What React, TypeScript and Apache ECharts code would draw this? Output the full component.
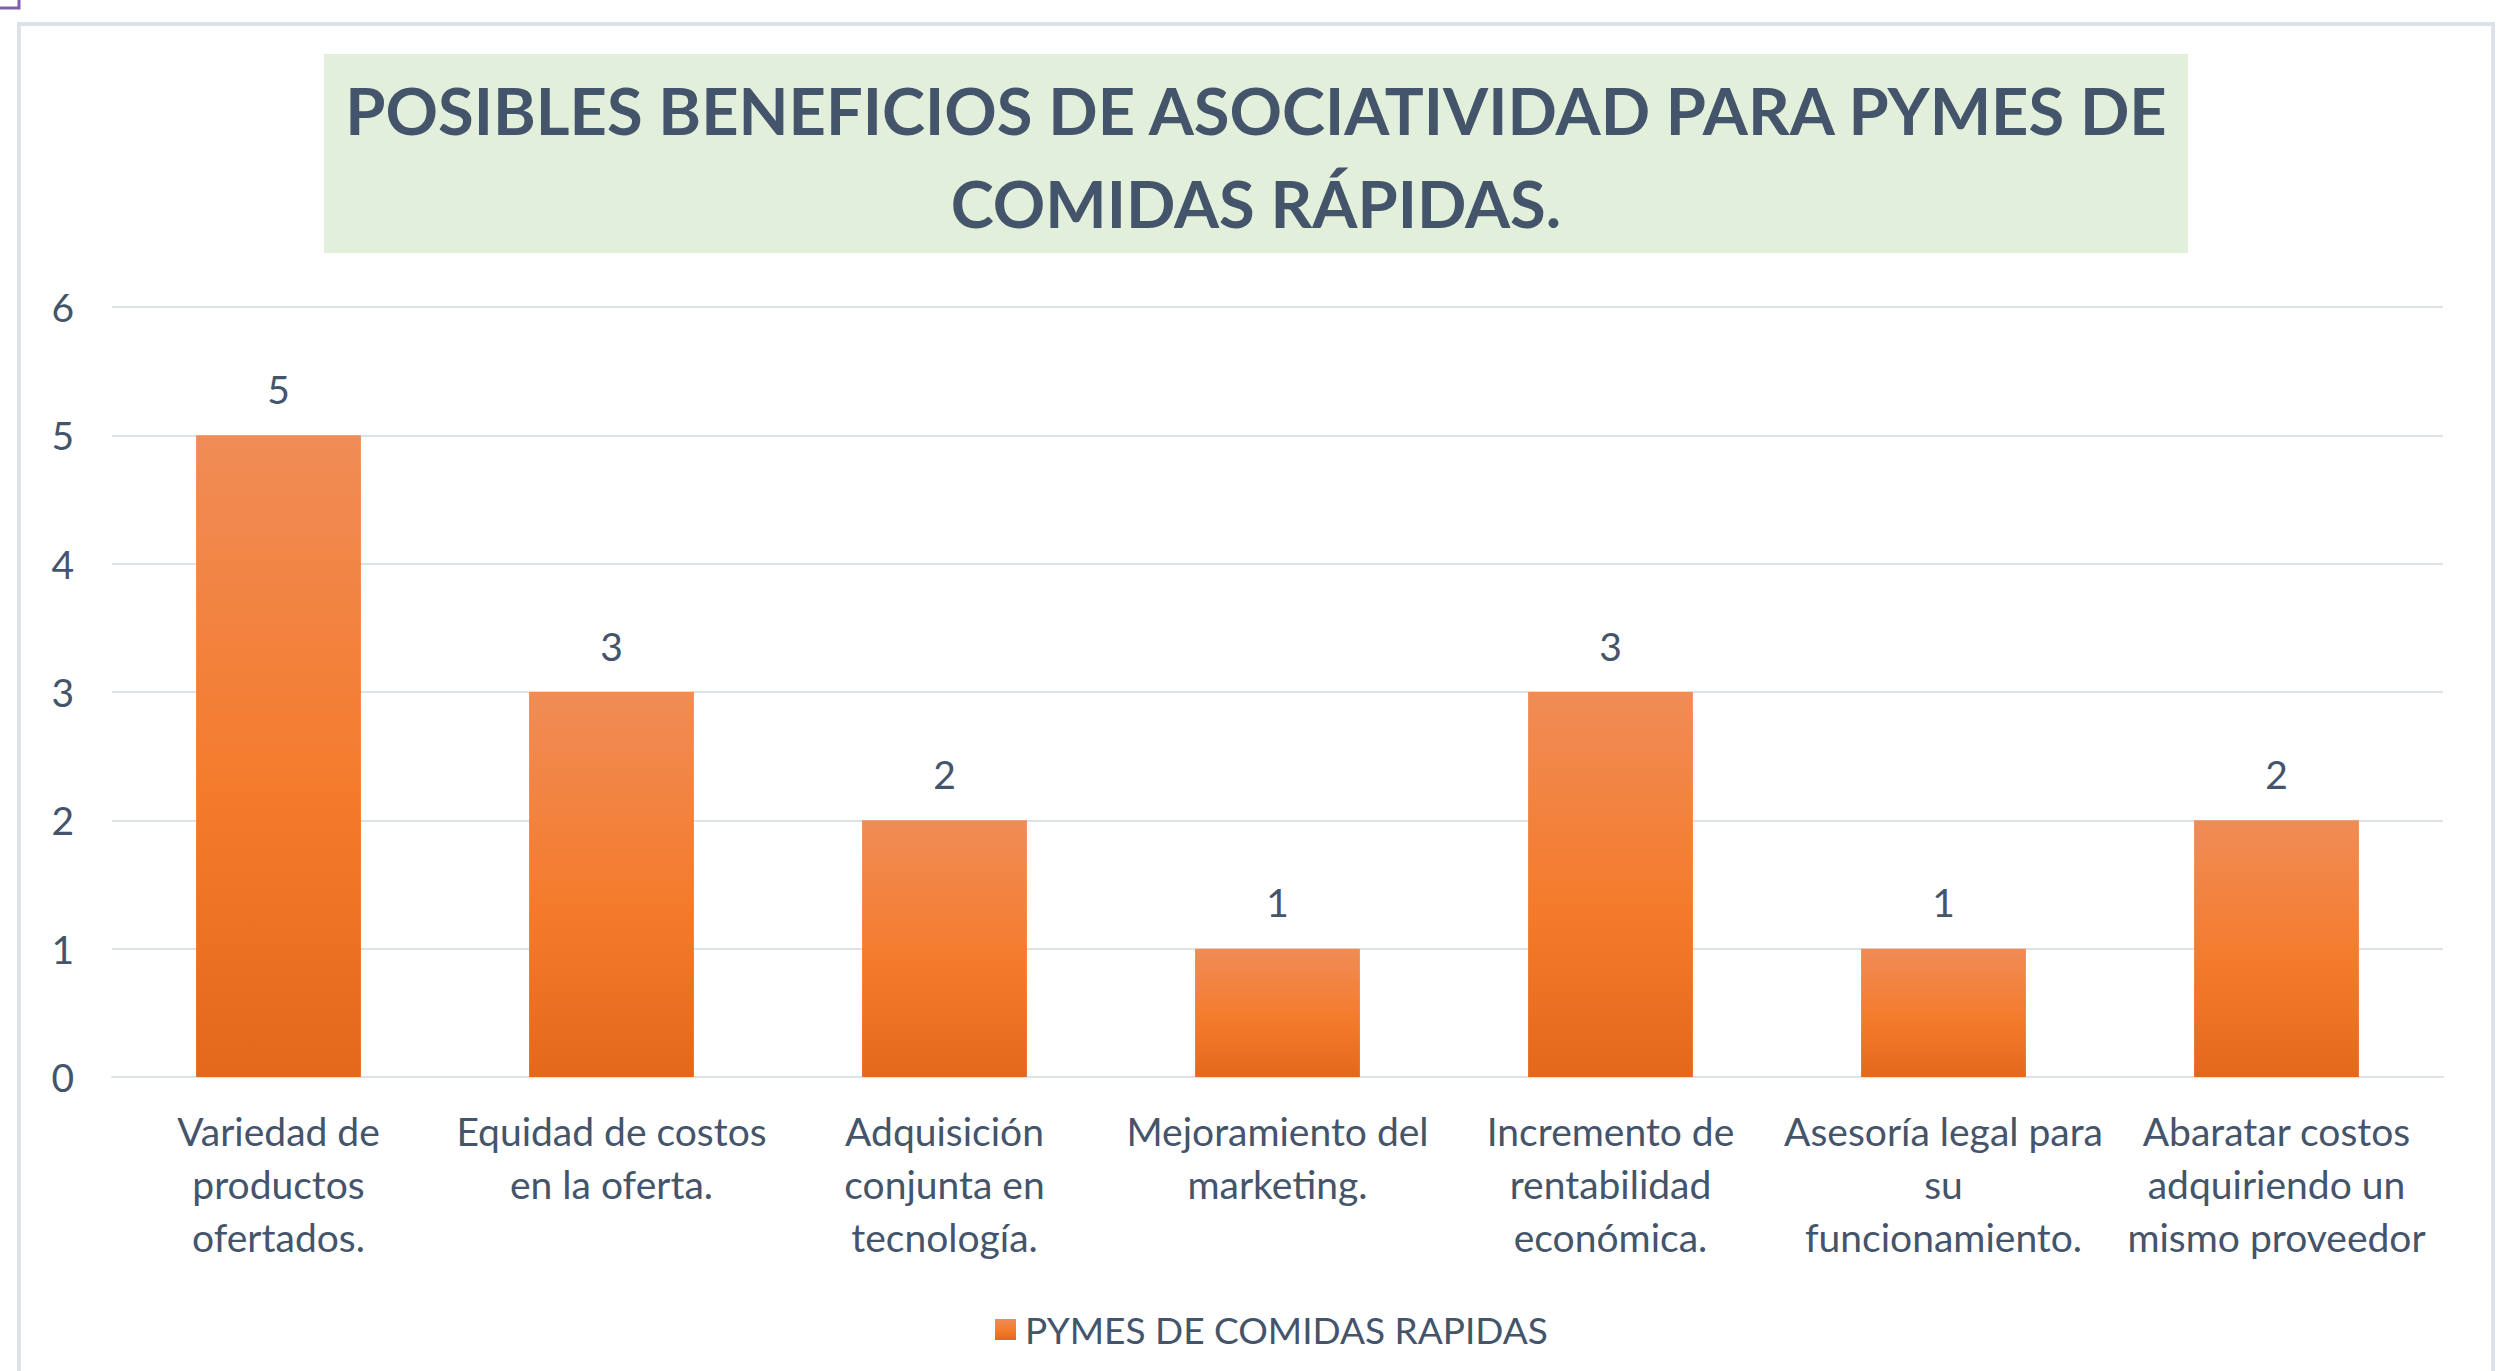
import React, { useEffect, useRef } from "react";
import * as echarts from "echarts";

const categories = [
  "Variedad de\nproductos\nofertados.",
  "Equidad de costos\nen la oferta.",
  "Adquisición\nconjunta en\ntecnología.",
  "Mejoramiento del\nmarketing.",
  "Incremento de\nrentabilidad\neconómica.",
  "Asesoría legal para\nsu\nfuncionamiento.",
  "Abaratar costos\nadquiriendo un\nmismo proveedor",
];
const values = [5, 3, 2, 1, 3, 1, 2];
const seriesName = "PYMES DE COMIDAS RAPIDAS";
const titleText = "POSIBLES BENEFICIOS DE ASOCIATIVIDAD PARA PYMES DE\nCOMIDAS RÁPIDAS.";

const TEXT = "#44546a";
const FONT = "Lato";

export default function App() {
  const ref = useRef<HTMLDivElement>(null);
  useEffect(() => {
    if (!ref.current) return;
    const chart = echarts.init(ref.current, null, { renderer: "svg" });
    const barColor = new echarts.graphic.LinearGradient(0, 0, 0, 1, [
      { offset: 0, color: "#f08c56" },
      { offset: 0.55, color: "#f47b2c" },
      { offset: 1, color: "#e4681c" },
    ]);
    chart.setOption({
      animation: false,
      backgroundColor: "#ffffff",
      textStyle: { fontFamily: FONT },
      graphic: [
        {
          type: "rect",
          silent: true,
          z: -10,
          shape: { x: 19, y: 24, width: 2474, height: 1400 },
          style: { fill: "#ffffff", stroke: "#dde2ea", lineWidth: 4 },
        },
        {
          type: "polyline",
          silent: true,
          shape: { points: [[0, 8], [19, 8], [19, 0]] },
          style: { stroke: "#7c5fa8", lineWidth: 3, fill: null },
        },
        {
          type: "rect",
          silent: true,
          z: -5,
          shape: { x: 324, y: 54, width: 1864, height: 199 },
          style: { fill: "#e2efda" },
        },
      ],
      title: {
        text: titleText,
        left: "center",
        top: 63,
        padding: 0,
        textStyle: {
          fontFamily: FONT,
          fontWeight: "bold",
          fontSize: 65,
          lineHeight: 93,
          color: TEXT,
        },
      },
      legend: {
        bottom: 18,
        left: 990,
        itemWidth: 21,
        itemHeight: 21,
        icon: "rect",
        itemGap: 10,
        textStyle: {
          fontFamily: FONT,
          fontSize: 37,
          color: TEXT,
          padding: [0, 0, 0, 4],
        },
        data: [seriesName],
      },
      grid: { left: 112, right: 69, top: 307, bottom: 294, containLabel: false },
      xAxis: {
        type: "category",
        data: categories,
        axisLine: { show: true, lineStyle: { color: "#dde1e8", width: 2 } },
        axisTick: { show: false },
        axisLabel: {
          interval: 0,
          margin: 27,
          fontFamily: FONT,
          fontSize: 39,
          lineHeight: 53,
          color: TEXT,
          align: "center",
        },
      },
      yAxis: {
        type: "value",
        min: 0,
        max: 6,
        interval: 1,
        axisLine: { show: false },
        axisTick: { show: false },
        splitLine: { lineStyle: { color: "#dde1e8", width: 2 } },
        axisLabel: {
          margin: 38,
          fontFamily: FONT,
          fontSize: 39,
          color: TEXT,
        },
      },
      series: [
        {
          name: seriesName,
          type: "bar",
          data: values,
          barWidth: "49.5%",
          itemStyle: { color: barColor },
          label: {
            show: true,
            position: "top",
            distance: 27,
            fontFamily: FONT,
            fontSize: 39,
            color: TEXT,
          },
        },
      ],
    });
    return () => chart.dispose();
  }, []);
  return (
    <div
      ref={ref}
      style={{ position: "fixed", left: 0, top: 0, width: 2512, height: 1371 }}
    />
  );
}
